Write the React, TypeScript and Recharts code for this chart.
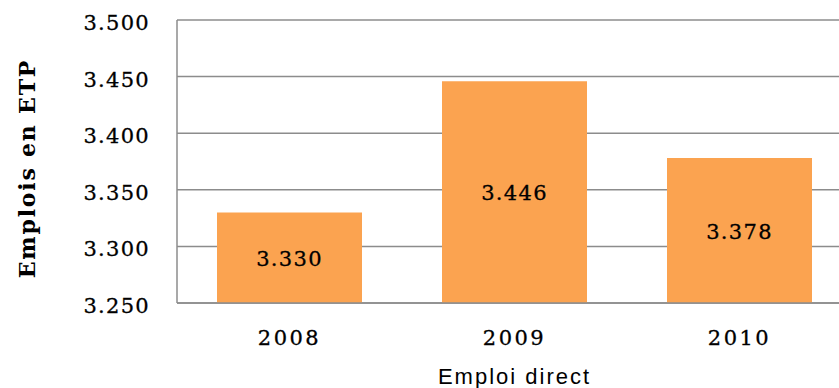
import { Bar, BarChart, CartesianGrid, LabelList, XAxis, YAxis } from 'recharts'

const years = ['2008', '2009', '2010']
const jobs = [3330, 3446, 3378]
const yTicks = [3250, 3300, 3350, 3400, 3450, 3500]

const data = years.map((year, i) => ({ year, value: jobs[i] }))

const serif = '"DejaVu Serif", Georgia, serif'
const fmt = (v: number) => String(v).replace(/\B(?=(\d{3})+(?!\d))/g, '.')

// a hairline stroke thickens DejaVu a bit, closer to the heavier original face
const numStyle = {
  fill: '#000',
  stroke: '#000',
  strokeWidth: 0.3,
  fontFamily: serif,
  fontSize: 21,
  letterSpacing: 1.3,
}

function XTick({ x, y, payload }: any) {
  return (
    <text x={x} y={y + 40} textAnchor="middle" {...numStyle} letterSpacing={2.5}>
      {payload.value}
    </text>
  )
}

function YTick({ x, y, payload }: any) {
  return (
    <text x={x - 25} y={y + 10} textAnchor="end" {...numStyle}>
      {fmt(payload.value)}
    </text>
  )
}

// rotated y axis title, centred on the plot height
function YTitle(props: any) {
  const vb = props.viewBox || {}
  const cx = 27
  const cy = (vb.y ?? 20) + (vb.height ?? 283) / 2 + 7
  return (
    <text
      x={cx}
      y={cy}
      transform={`rotate(-90, ${cx}, ${cy})`}
      textAnchor="middle"
      dominantBaseline="central"
      fill="#000"
      fontFamily={serif}
      fontWeight="bold"
      fontSize={22}
      letterSpacing={1.8}
    >
      Emplois en ETP
    </text>
  )
}

export default function App() {
  return (
    <div style={{ position: 'absolute', left: 0, top: 0, width: 839, height: 388, overflow: 'hidden', background: '#fff' }}>
      <BarChart
        width={860}
        height={388}
        data={data}
        margin={{ top: 20, right: 8, left: 0, bottom: 0 }}
      >
        <CartesianGrid vertical={false} stroke="#8c8c8c" strokeWidth={1.5} />
        <XAxis
          dataKey="year"
          height={85}
          axisLine={{ stroke: '#8c8c8c', strokeWidth: 1.5 }}
          tickLine={false}
          tickSize={0}
          tick={<XTick />}
          label={{
            value: 'Emploi direct',
            position: 'insideBottom',
            offset: 4,
            fill: '#000',
            fontFamily: '"Liberation Sans", Arial, sans-serif',
            fontSize: 22,
            letterSpacing: 2,
          }}
        />
        <YAxis
          width={177}
          domain={[3250, 3500]}
          ticks={yTicks}
          allowDataOverflow
          axisLine={{ stroke: '#8c8c8c', strokeWidth: 1.5 }}
          tickLine={false}
          tickSize={0}
          tick={<YTick />}
          label={<YTitle />}
        />
        <Bar dataKey="value" fill="#FBA350" barSize={145} isAnimationActive={false}>
          <LabelList
            dataKey="value"
            position="center"
            content={(p: any) => (
              <text
                x={p.x + p.width / 2}
                y={p.y + p.height / 2 + 8}
                textAnchor="middle"
                {...numStyle}
              >
                {fmt(Number(p.value))}
              </text>
            )}
          />
        </Bar>
      </BarChart>
    </div>
  )
}
